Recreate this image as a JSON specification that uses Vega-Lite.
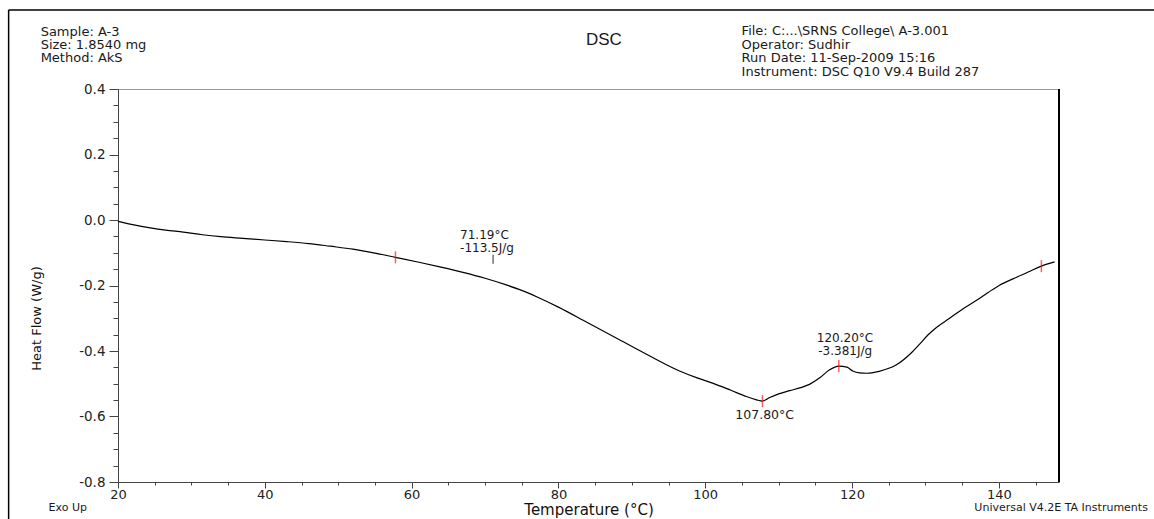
{
  "$schema": "https://vega.github.io/schema/vega-lite/v6.json",
  "width": 941,
  "height": 393,
  "autosize": {"type": "none"},
  "padding": {"left": 118, "top": 89, "right": 95, "bottom": 37},
  "background": "white",
  "config": {
    "view": {"stroke": "#999", "strokeWidth": 1},
    "font": "DejaVu Sans",
    "text": {"font": "DejaVu Sans", "color": "#1a1a1a"}
  },
  "datasets": {
    "curve": [
      {"T": 20.0, "HF": -0.004}, {"T": 22.0, "HF": -0.014}, {"T": 24.4, "HF": -0.024},
      {"T": 26.5, "HF": -0.031}, {"T": 28.9, "HF": -0.037}, {"T": 31.5, "HF": -0.045},
      {"T": 34.0, "HF": -0.051}, {"T": 37.0, "HF": -0.056}, {"T": 40.0, "HF": -0.061},
      {"T": 43.0, "HF": -0.066}, {"T": 46.0, "HF": -0.072}, {"T": 48.9, "HF": -0.080},
      {"T": 52.0, "HF": -0.089}, {"T": 55.0, "HF": -0.101}, {"T": 57.8, "HF": -0.114},
      {"T": 61.0, "HF": -0.129}, {"T": 64.0, "HF": -0.144}, {"T": 67.0, "HF": -0.160},
      {"T": 70.0, "HF": -0.178}, {"T": 73.0, "HF": -0.199}, {"T": 75.0, "HF": -0.215},
      {"T": 77.1, "HF": -0.235}, {"T": 80.0, "HF": -0.266}, {"T": 84.0, "HF": -0.314},
      {"T": 88.0, "HF": -0.362}, {"T": 92.0, "HF": -0.410}, {"T": 96.5, "HF": -0.461},
      {"T": 99.0, "HF": -0.483}, {"T": 101.0, "HF": -0.498}, {"T": 103.5, "HF": -0.520},
      {"T": 105.6, "HF": -0.539}, {"T": 107.0, "HF": -0.549}, {"T": 107.8, "HF": -0.553},
      {"T": 108.8, "HF": -0.542}, {"T": 110.0, "HF": -0.531}, {"T": 111.5, "HF": -0.521},
      {"T": 113.0, "HF": -0.512}, {"T": 114.2, "HF": -0.502}, {"T": 115.6, "HF": -0.482},
      {"T": 116.9, "HF": -0.458}, {"T": 118.2, "HF": -0.446}, {"T": 119.3, "HF": -0.449},
      {"T": 120.1, "HF": -0.461}, {"T": 121.0, "HF": -0.467}, {"T": 122.0, "HF": -0.468},
      {"T": 123.7, "HF": -0.462}, {"T": 126.0, "HF": -0.443}, {"T": 128.2, "HF": -0.403},
      {"T": 129.3, "HF": -0.377}, {"T": 130.3, "HF": -0.352}, {"T": 131.5, "HF": -0.328},
      {"T": 133.3, "HF": -0.300}, {"T": 135.0, "HF": -0.273}, {"T": 136.7, "HF": -0.249},
      {"T": 138.5, "HF": -0.222}, {"T": 140.1, "HF": -0.199}, {"T": 142.0, "HF": -0.179},
      {"T": 144.0, "HF": -0.159}, {"T": 145.8, "HF": -0.141}, {"T": 147.6, "HF": -0.128}
    ],
    "redMarks": [
      {"T": 57.8, "HF": -0.114}, {"T": 107.8, "HF": -0.553},
      {"T": 118.2, "HF": -0.446}, {"T": 145.8, "HF": -0.141}
    ],
    "blackMark": [{"T": 71.1, "HF": -0.12}],
    "headerLeft": [
      {"T": 9.46, "HF": 0.574, "label": "Sample: A-3"},
      {"T": 9.46, "HF": 0.535, "label": "Size:  1.8540 mg"},
      {"T": 9.46, "HF": 0.496, "label": "Method: AkS"}
    ],
    "headerRight": [
      {"T": 104.96, "HF": 0.576, "label": "File: C:...\\SRNS College\\ A-3.001"},
      {"T": 104.96, "HF": 0.535, "label": "Operator: Sudhir"},
      {"T": 104.96, "HF": 0.494, "label": "Run Date: 11-Sep-2009 15:16"},
      {"T": 104.96, "HF": 0.453, "label": "Instrument: DSC Q10 V9.4 Build 287"}
    ],
    "titleText": [{"T": 86.2, "HF": 0.55, "label": "DSC"}],
    "annotLeft": [
      {"T": 66.6, "HF": -0.047, "label": "71.19°C"},
      {"T": 66.6, "HF": -0.087, "label": "-113.5J/g"},
      {"T": 115.2, "HF": -0.361, "label": "120.20°C"},
      {"T": 115.4, "HF": -0.401, "label": "-3.381J/g"}
    ],
    "annotCenter": [{"T": 108.1, "HF": -0.594, "label": "107.80°C"}],
    "footer": [
      {"T": 10.54, "HF": -0.879, "label": "Exo Up"},
      {"T": 136.67, "HF": -0.879, "label": "Universal V4.2E TA Instruments"}
    ],
    "frameTop": [{"T": 5.1, "T2": 170, "HF": 0.641}],
    "frameLeft": [{"T": 5.1, "HF": 0.641, "HF2": -0.95}],
    "frameRight": [{"T": 148.2, "HF": 0.4, "HF2": -0.8}]
  },
  "encoding": {
    "x": {
      "field": "T", "type": "quantitative", "title": "Temperature (°C)",
      "scale": {"domain": [20, 148.2], "nice": false, "zero": false},
      "axis": {
        "values": [20, 25, 30, 35, 40, 45, 50, 55, 60, 65, 70, 75, 80, 85, 90, 95, 100, 105, 110, 115, 120, 125, 130, 135, 140, 145],
        "labelExpr": "datum.value % 20 === 0 ? datum.value : ''",
        "tickSize": {"condition": {"test": "datum.value % 20 === 0", "value": 6}, "value": 3},
        "grid": false,
        "labelFlush": false,
        "domainColor": "#444", "tickColor": "#444",
        "labelFont": "DejaVu Sans", "labelFontSize": 13, "labelColor": "#222",
        "labelPadding": 0,
        "titleFont": "DejaVu Sans", "titleFontSize": 15, "titleFontWeight": "normal",
        "titleColor": "#111",
        "titleY": 27, "titleBaseline": "middle"
      }
    },
    "y": {
      "field": "HF", "type": "quantitative", "title": "Heat Flow (W/g)",
      "scale": {"domain": [-0.8, 0.4], "nice": false, "zero": false},
      "axis": {
        "values": [0.4, 0.35, 0.3, 0.25, 0.2, 0.15, 0.1, 0.05, 0, -0.05, -0.1, -0.15, -0.2, -0.25, -0.3, -0.35, -0.4, -0.45, -0.5, -0.55, -0.6, -0.65, -0.7, -0.75, -0.8],
        "labelExpr": "round(datum.value*20) % 4 === 0 ? replace(format(datum.value, '.1f'), '−', '-') : ''",
        "tickSize": {"condition": {"test": "round(datum.value*20) % 4 === 0", "value": 9}, "value": 5},
        "grid": false,
        "labelFlush": false,
        "domainColor": "#444", "tickColor": "#444",
        "labelFont": "DejaVu Sans", "labelFontSize": 13.5, "labelColor": "#222",
        "labelPadding": 4,
        "titleFont": "DejaVu Sans", "titleFontSize": 13, "titleFontWeight": "normal",
        "titleColor": "#111",
        "titleX": -82, "titleY": 229, "titleAlign": "center", "titleBaseline": "middle", "titleAngle": 270
      }
    }
  },
  "layer": [
    {
      "data": {"name": "curve"},
      "mark": {"type": "line", "color": "#000", "strokeWidth": 1.2, "interpolate": "monotone"}
    },
    {
      "data": {"name": "frameRight"},
      "mark": {"type": "rule", "color": "#000", "strokeWidth": 2},
      "encoding": {"y2": {"field": "HF2"}}
    },
    {
      "data": {"name": "frameTop"},
      "mark": {"type": "rule", "color": "#000", "strokeWidth": 1.5},
      "encoding": {"x2": {"field": "T2"}}
    },
    {
      "data": {"name": "frameLeft"},
      "mark": {"type": "rule", "color": "#000", "strokeWidth": 1.5},
      "encoding": {"y2": {"field": "HF2"}}
    },
    {
      "data": {"name": "redMarks"},
      "mark": {"type": "tick", "orient": "vertical", "color": "#ff1a1a", "size": 12, "thickness": 1.5}
    },
    {
      "data": {"name": "blackMark"},
      "mark": {"type": "tick", "orient": "vertical", "color": "#000", "size": 9, "thickness": 1.2}
    },
    {
      "data": {"name": "headerLeft"},
      "mark": {"type": "text", "align": "left", "baseline": "middle", "fontSize": 13},
      "encoding": {"text": {"field": "label"}}
    },
    {
      "data": {"name": "headerRight"},
      "mark": {"type": "text", "align": "left", "baseline": "middle", "fontSize": 13},
      "encoding": {"text": {"field": "label"}}
    },
    {
      "data": {"name": "titleText"},
      "mark": {"type": "text", "align": "center", "baseline": "middle", "fontSize": 17, "font": "Liberation Sans"},
      "encoding": {"text": {"field": "label"}}
    },
    {
      "data": {"name": "annotLeft"},
      "mark": {"type": "text", "align": "left", "baseline": "middle", "fontSize": 12},
      "encoding": {"text": {"field": "label"}}
    },
    {
      "data": {"name": "annotCenter"},
      "mark": {"type": "text", "align": "center", "baseline": "middle", "fontSize": 12.5},
      "encoding": {"text": {"field": "label"}}
    },
    {
      "data": {"name": "footer"},
      "mark": {"type": "text", "align": "left", "baseline": "middle", "fontSize": 11},
      "encoding": {"text": {"field": "label"}}
    }
  ]
}
